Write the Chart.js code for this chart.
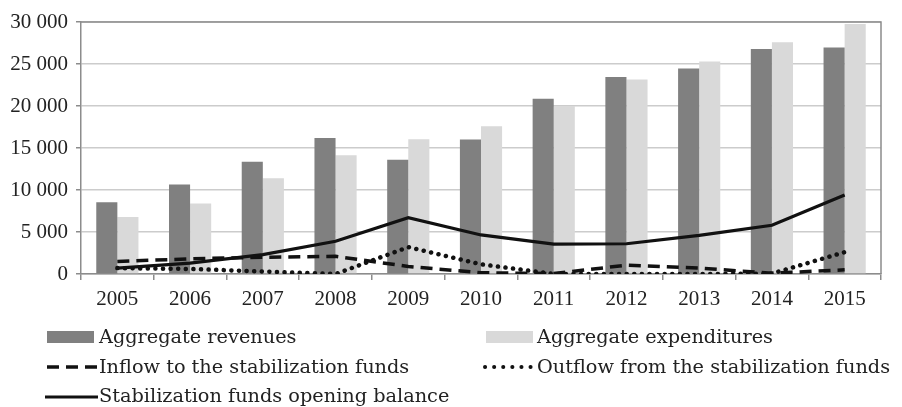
<!DOCTYPE html>
<html>
<head>
<meta charset="utf-8">
<script src="https://cdn.jsdelivr.net/npm/chart.js@4"></script>
<style>
  html, body { margin: 0; padding: 0; background: #fff; }
  #wrap { position: relative; width: 902px; height: 407px; overflow: hidden; }
  #myChart { position: absolute; left: 0; top: 0; }
  .lg { position: absolute; font-family: "DejaVu Serif", serif; font-size: 19.3px; line-height: 19px; color: #222; white-space: nowrap; }
  .sw { position: absolute; }
</style>
</head>
<body>
<div id="wrap">
  <canvas id="myChart" width="902" height="407"></canvas>

  <div class="sw" style="left:47px;top:331px;width:47px;height:12px;background:#808080"></div>
  <div class="lg" style="left:99px;top:327px">Aggregate revenues</div>

  <div class="sw" style="left:486px;top:331px;width:47px;height:12px;background:#d9d9d9"></div>
  <div class="lg" style="left:537px;top:327px">Aggregate expenditures</div>

  <svg class="sw" style="left:44px;top:360px" width="56" height="14">
    <line x1="3" y1="7" x2="54" y2="7" stroke="#111" stroke-width="3.5" stroke-dasharray="12 7"/>
  </svg>
  <div class="lg" style="left:99px;top:357px">Inflow to the stabilization funds</div>

  <svg class="sw" style="left:482px;top:360px" width="56" height="14">
    <line x1="3" y1="7" x2="54" y2="7" stroke="#111" stroke-width="4" stroke-linecap="round" stroke-dasharray="0.1 9"/>
  </svg>
  <div class="lg" style="left:537px;top:357px">Outflow from the stabilization funds</div>

  <svg class="sw" style="left:44px;top:390px" width="56" height="14">
    <line x1="1" y1="7" x2="54" y2="7" stroke="#111" stroke-width="3.2"/>
  </svg>
  <div class="lg" style="left:99px;top:386px">Stabilization funds opening balance</div>
</div>

<script>
const years = ["2005", "2006", "2007", "2008", "2009", "2010", "2011", "2012", "2013", "2014", "2015"];
const revenues = [8550, 10650, 13350, 16200, 13600, 16000, 20850, 23450, 24450, 26800, 26950];
const expenditures = [6800, 8400, 11400, 14150, 16050, 17600, 20000, 23150, 25300, 27600, 29750];
const inflow = [1500, 1800, 2000, 2100, 900, 150, 50, 1050, 700, 100, 500];
const outflow = [700, 600, 300, 0, 3200, 1150, 0, 0, 0, 50, 2600];
const openingBalance = [700, 1300, 2300, 3900, 6700, 4650, 3550, 3600, 4600, 5800, 9400];
const yTicks = [0, 5000, 10000, 15000, 20000, 25000, 30000];

function fmt(v) {
    return String(v).replace(/\B(?=(\d{3})+(?!\d))/g, ' ');
}

// top and right edge of the plot box
const frame = {
    id: 'frame',
    afterDatasetsDraw(chart) {
        const a = chart.chartArea;
        const c = chart.ctx;
        c.save();
        c.strokeStyle = '#8c8c8c';
        c.lineWidth = 1.5;
        c.beginPath();
        c.moveTo(a.left, a.top);
        c.lineTo(a.right, a.top);
        c.lineTo(a.right, a.bottom);
        c.stroke();
        c.restore();
    }
};

const tickFont = { family: '"Liberation Serif", serif', size: 21 };

const ctx = document.getElementById('myChart').getContext('2d');
const myChart = new Chart(ctx, {
    type: 'bar',
    data: {
        labels: years,
        datasets: [
            {
                type: 'line',
                label: 'Stabilization funds opening balance',
                data: openingBalance,
                borderColor: '#111',
                borderWidth: 3.2,
                pointRadius: 0,
                tension: 0,
                fill: false,
                order: 1
            },
            {
                type: 'line',
                label: 'Inflow to the stabilization funds',
                data: inflow,
                borderColor: '#111',
                borderWidth: 3.5,
                borderDash: [12, 7],
                pointRadius: 0,
                tension: 0,
                fill: false,
                order: 1
            },
            {
                type: 'line',
                label: 'Outflow from the stabilization funds',
                data: outflow,
                borderColor: '#111',
                borderWidth: 4.5,
                borderDash: [0.1, 7.5],
                borderCapStyle: 'round',
                pointRadius: 0,
                tension: 0,
                fill: false,
                order: 1
            },
            {
                label: 'Aggregate revenues',
                data: revenues,
                backgroundColor: '#808080',
                categoryPercentage: 0.58,
                barPercentage: 1.0,
                order: 2
            },
            {
                label: 'Aggregate expenditures',
                data: expenditures,
                backgroundColor: '#d9d9d9',
                categoryPercentage: 0.58,
                barPercentage: 1.0,
                order: 2
            }
        ]
    },
    options: {
        responsive: false,
        animation: false,
        layout: { padding: { left: 0, right: 21, top: 22, bottom: 93 } },
        plugins: {
            legend: { display: false },
            tooltip: { enabled: false }
        },
        scales: {
            x: {
                offset: true,
                grid: {
                    offset: true,
                    drawOnChartArea: false,
                    tickLength: 6,
                    tickColor: '#8c8c8c',
                    lineWidth: 1.5
                },
                border: { color: '#8c8c8c', width: 1.5 },
                ticks: { color: '#222', font: tickFont, padding: 7, maxRotation: 0 },
                afterFit(scale) { scale.height = 40; }
            },
            y: {
                min: 0,
                max: 30000,
                afterBuildTicks(scale) { scale.ticks = yTicks.map(v => ({ value: v })); },
                grid: {
                    color: '#cccccc',
                    lineWidth: 1.5,
                    tickLength: 5,
                    tickColor: '#8c8c8c'
                },
                border: { color: '#8c8c8c', width: 1.5 },
                ticks: { color: '#222', font: tickFont, padding: 8, callback: v => fmt(v) },
                afterFit(scale) { scale.width = 81; }
            }
        }
    },
    plugins: [frame]
});
</script>
</body>
</html>
